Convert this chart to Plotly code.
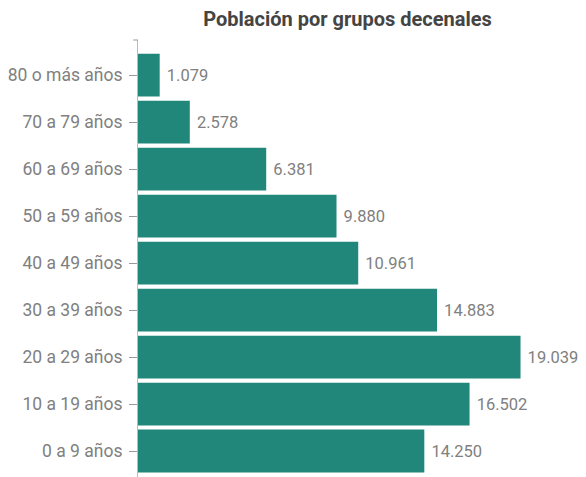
import plotly.graph_objects as go

categories = ["0 a 9 años", "10 a 19 años", "20 a 29 años", "30 a 39 años", "40 a 49 años",
              "50 a 59 años", "60 a 69 años", "70 a 79 años", "80 o más años"]
values = [14250, 16502, 19039, 14883, 10961, 9880, 6381, 2578, 1079]

fig = go.Figure(go.Bar(
    x=values, y=categories, orientation="h",
    marker=dict(color="#21877a", line=dict(width=0)),
    texttemplate=" %{x:,}", textposition="outside", cliponaxis=False,
    textfont=dict(family="Roboto", size=16.5, color="#808080"),
))

fig.update_layout(
    width=586, height=477,
    margin=dict(l=138, r=10, t=40, b=0),
    paper_bgcolor="white", plot_bgcolor="white",
    separators=",.",
    bargap=0.09,
    showlegend=False,
    font=dict(family="Roboto", size=17.5, color="#808080"),
    title=dict(text="<b>Población por grupos decenales</b>", x=(347.5 - 138) / 438, xref="paper",
               xanchor="center",
               y=1 - 19 / 477, yref="container", yanchor="middle",
               font=dict(family="Roboto", size=20, color="#444444")),
    xaxis=dict(range=[0, 21800], visible=False, showgrid=False, zeroline=False),
    yaxis=dict(range=[-0.553, 8.745], showline=True, linecolor="#bbbbbb", linewidth=1,
               ticks="outside", ticklen=8, tickcolor="#999999", showgrid=False,
               ticklabelstandoff=3,
               tickfont=dict(family="Roboto", size=17.5, color="#808080")),
)
fig.add_shape(type="line", xref="paper", yref="paper", x0=-0.011, x1=0, y0=1, y1=1,
              line=dict(color="#999999", width=1))

fig.write_html("out.html", config={"displayModeBar": False},
               post_script="document.body.style.margin='0';")
